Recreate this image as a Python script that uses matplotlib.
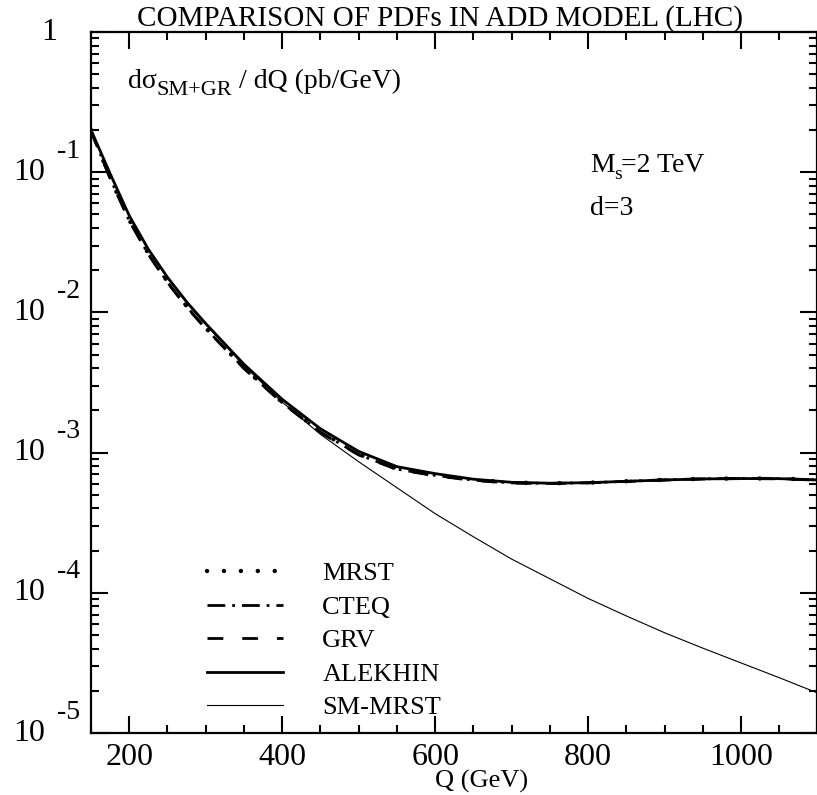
import matplotlib
matplotlib.use("Agg")
import matplotlib.pyplot as plt
from matplotlib.lines import Line2D
from matplotlib.ticker import MultipleLocator, LogLocator, NullFormatter

plt.rcParams['font.family'] = ['Liberation Serif', 'DejaVu Serif']

# dsigma/dQ (pb/GeV) vs dilepton mass Q, ADD model, Ms = 2 TeV, d = 3
Q = [150, 175, 200, 225, 250, 275, 300, 350, 400, 450, 500, 550, 600,
     650, 700, 750, 800, 850, 900, 950, 1000, 1050, 1100]

mrst = [0.200, 0.0911, 0.0457, 0.0263, 0.0166, 0.0111, 0.00776, 0.00403,
        0.00229, 0.00141, 0.000974, 0.000767, 0.000692, 0.000640, 0.000612,
        0.000604, 0.000610, 0.000625, 0.000640, 0.000650, 0.000655,
        0.000653, 0.000640]
cteq = [0.198, 0.0905, 0.0452, 0.0260, 0.0164, 0.0110, 0.00770, 0.00400,
        0.00227, 0.00140, 0.000968, 0.000762, 0.000688, 0.000636, 0.000608,
        0.000603, 0.000609, 0.000624, 0.000639, 0.000650, 0.000654,
        0.000652, 0.000639]
grv = [0.196, 0.0900, 0.0450, 0.0259, 0.0163, 0.0109, 0.00765, 0.00398,
       0.00226, 0.00139, 0.000962, 0.000758, 0.000684, 0.000633, 0.000606,
       0.000602, 0.000608, 0.000622, 0.000637, 0.000648, 0.000652,
       0.000650, 0.000636]
alekhin = [0.200, 0.0977, 0.0490, 0.0282, 0.0178, 0.0119, 0.00832, 0.00427,
           0.00240, 0.00148, 0.00102, 0.000794, 0.000708, 0.000646, 0.000614,
           0.000605, 0.000610, 0.000624, 0.000638, 0.000649, 0.000653,
           0.000652, 0.000638]
sm_mrst = [0.200, 0.0977, 0.0490, 0.0282, 0.0176, 0.0117, 0.00822, 0.00417,
           0.00229, 0.00135, 0.000861, 0.000562, 0.000367, 0.000251,
           0.000174, 0.000126, 9.12e-5, 6.84e-5, 5.19e-5, 4.03e-5, 3.16e-5,
           2.48e-5, 1.93e-5]

decades = [-5, -4, -3, -2, -1]

fig = plt.figure(figsize=(8.17, 7.95), dpi=100)
ax = fig.add_axes([91 / 817, 62 / 795, 726.5 / 817, 701 / 795])

# line styles: dotted, dash-dot, dashed, thick solid, thin solid
dot_style = dict(color='black', lw=3.2, linestyle=(0, (0.01, 7.5)),
                 dash_capstyle='round')
cteq_style = dict(color='black', lw=2.0, linestyle=(0, (6.4, 2.5, 1.0, 2.5)))
grv_style = dict(color='black', lw=2.0, linestyle=(0, (5.7, 6.8)))
alek_style = dict(color='black', lw=2.0)
sm_style = dict(color='black', lw=0.8)

ax.plot(Q, sm_mrst, **sm_style)
ax.plot(Q, alekhin, **alek_style)
ax.plot(Q, grv, **grv_style)
ax.plot(Q, cteq, **cteq_style)
ax.plot(Q, mrst, **dot_style)

ax.set_yscale('log')
ax.set_xlim(150, 1100)
ax.set_ylim(1e-5, 1)

ax.xaxis.set_major_locator(MultipleLocator(200))
ax.xaxis.set_minor_locator(MultipleLocator(50))
ax.yaxis.set_major_locator(LogLocator(base=10))
ax.yaxis.set_minor_locator(LogLocator(base=10, subs=range(2, 10)))
ax.yaxis.set_major_formatter(NullFormatter())
ax.yaxis.set_minor_formatter(NullFormatter())

ax.tick_params(which='both', direction='in', top=True, right=True,
               width=1.5, colors='black')
ax.tick_params(which='major', length=12)
ax.tick_params(which='minor', length=6)
ax.tick_params(axis='x', labelsize=23, pad=7)
for s in ax.spines.values():
    s.set_linewidth(1.6)

# y labels drawn as 10 with a raised exponent
ytr = ax.get_yaxis_transform()
for d in decades:
    ax.annotate('10', xy=(0, 10.0 ** d), xycoords=ytr, xytext=(-62, 0),
                textcoords='offset pixels', ha='center', va='center',
                fontsize=23)
    ax.annotate(str(d), xy=(0, 10.0 ** d), xycoords=ytr, xytext=(-34, 21),
                textcoords='offset pixels', ha='left', va='center',
                fontsize=20)
ax.annotate('1', xy=(0, 1.0), xycoords=ytr, xytext=(-42, 0),
            textcoords='offset pixels', ha='center', va='center', fontsize=23)

ax.set_xlabel('Q (GeV)', fontsize=19)
ax.xaxis.label.set_va('baseline')
ax.xaxis.set_label_coords(0.538, -0.0775)

fig.text(440 / 817, 1 - 26 / 795, 'COMPARISON OF PDFs IN ADD MODEL (LHC)',
         ha='center', va='baseline', fontsize=21)

# axis quantity label with full-size subscript
t1 = ax.text(0.051, 0.920, 'dσ', transform=ax.transAxes, fontsize=20,
             va='baseline')
t2 = ax.annotate('SM+GR', xy=(1, 0), xycoords=t1, xytext=(0, -6),
                 textcoords='offset pixels', fontsize=16, va='bottom')
ax.annotate(' / dQ (pb/GeV)', xy=(1, 0), xycoords=t2, xytext=(0, 6),
            textcoords='offset pixels', fontsize=20, va='bottom')

t3 = ax.text(0.687, 0.800, 'M', transform=ax.transAxes, fontsize=20,
             va='baseline')
t4 = ax.annotate('s', xy=(1, 0), xycoords=t3, xytext=(-1, -5),
                 textcoords='offset pixels', fontsize=14, va='bottom')
ax.annotate('=2 TeV', xy=(1, 0), xycoords=t4, xytext=(0, 5),
            textcoords='offset pixels', fontsize=20, va='bottom')
ax.text(0.687, 0.739, 'd=3', transform=ax.transAxes, fontsize=20,
        va='baseline')

handles = [
    Line2D([], [], color='black', lw=3.2, linestyle=(0, (0.01, 3.8)),
           dash_capstyle='round'),
    Line2D([], [], **cteq_style),
    Line2D([], [], **grv_style),
    Line2D([], [], **alek_style),
    Line2D([], [], **sm_style),
]
labels = ['MRST', 'CTEQ', 'GRV', 'ALEKHIN', 'SM-MRST']
ax.legend(handles, labels, loc='upper left', bbox_to_anchor=(0.16, 0.244),
          frameon=False, fontsize=19, handlelength=2.88, handletextpad=1.48,
          labelspacing=0.38, borderpad=0, borderaxespad=0)

fig.savefig('out.png', dpi=100)
